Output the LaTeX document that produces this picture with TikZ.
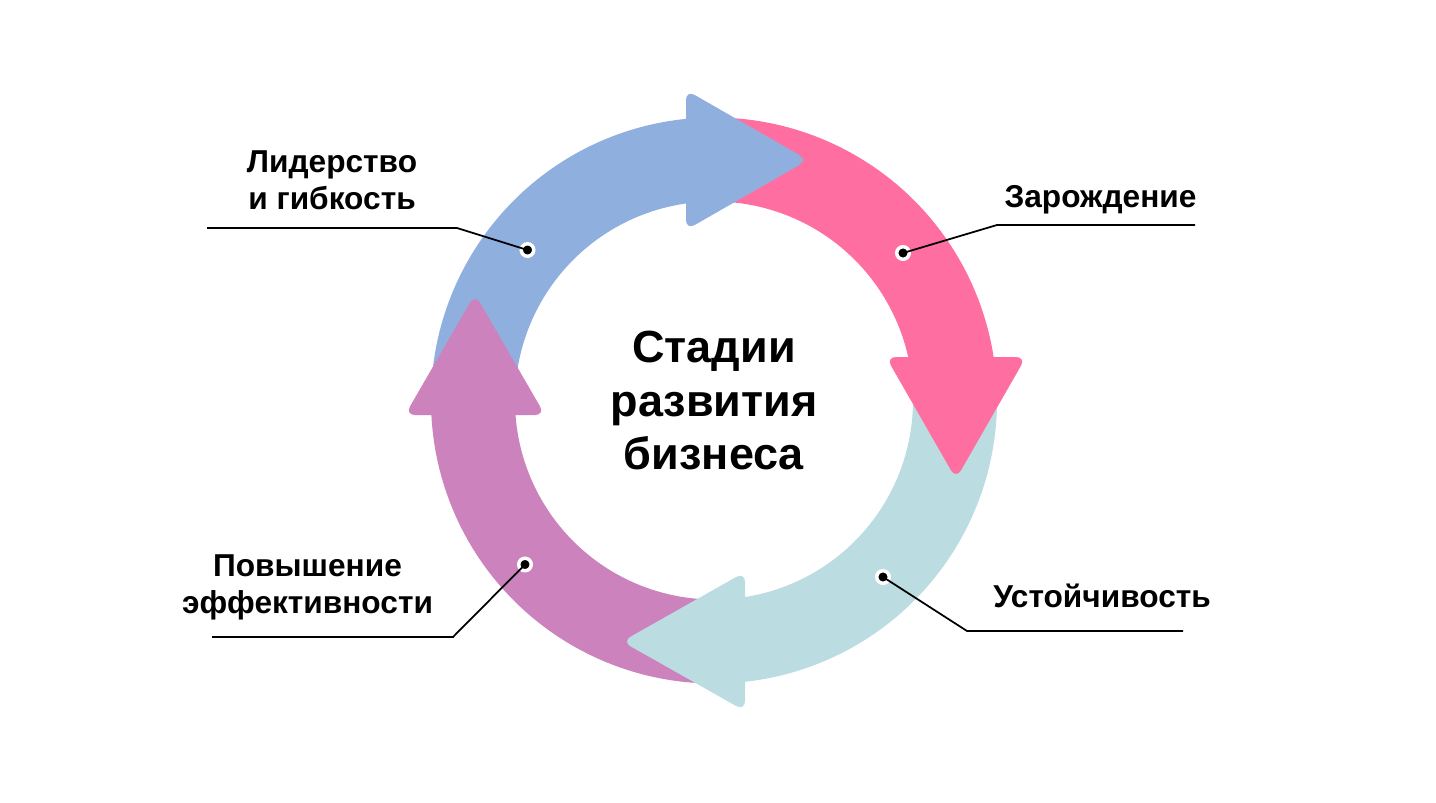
\documentclass[tikz,border=0pt]{standalone}
\usepackage{fontspec}
\setmainfont{Liberation Sans}
\usetikzlibrary{calc}
\definecolor{ringblue}{HTML}{8FB0DF}
\definecolor{ringpink}{HTML}{FF6EA0}
\definecolor{ringteal}{HTML}{BBDCE1}
\definecolor{ringpurple}{HTML}{CC82BC}

\begin{document}
\begin{tikzpicture}
[x=0.01cm,y=0.01cm,
head/.style={rounded corners=0.1cm},
dot/.style={circle,fill=black,draw=white,line width=0.035cm,minimum size=0.125cm,inner sep=0pt},
leader/.style={black,line width=0.5pt},
label/.style={font=\bfseries\fontsize{9pt}{10.5pt}\selectfont,align=center,inner sep=0pt},
title/.style={font=\bfseries\fontsize{12.8pt}{15.2pt}\selectfont,align=center,inner sep=0pt}]

\useasboundingbox (0,0) rectangle (1436,802);
\coordinate (c) at (714,401.5);

% ring parts
\fill[ringblue] ($(c)+(181:283)$) arc[start angle=181,end angle=90,radius=283]
  -- ($(c)+(90:199)$) arc[start angle=90,end angle=181,radius=199] -- cycle;
\fill[ringpink] ($(c)+(94:283)$) arc[start angle=94,end angle=0,radius=283]
  -- ($(c)+(0:199)$) arc[start angle=0,end angle=94,radius=199] -- cycle;
\fill[ringteal] ($(c)+(7:283)$) arc[start angle=7,end angle=-90,radius=283]
  -- ($(c)+(-90:199)$) arc[start angle=-90,end angle=7,radius=199] -- cycle;
\fill[ringpurple] ($(c)+(-85:283)$) arc[start angle=-85,end angle=-180,radius=283]
  -- ($(c)+(-180:199)$) arc[start angle=-180,end angle=-85,radius=199] -- cycle;

% heads
\fill[ringblue,head] (686,712) -- (808,642) -- (686,572) -- cycle;
\fill[ringpink,head] (886,445) -- (1026,445) -- (956,323) -- cycle;
\fill[ringteal,head] (745,230) -- (622,160.5) -- (745,91) -- cycle;
\fill[ringpurple,head] (405,387) -- (475,508) -- (545,387) -- cycle;

% centre
\node[title] (stadii) at (c) {Стадии\\развития\\бизнеса};

% labels
\node[label] (lid) at (332,622) {Лидерство\\и гибкость};
\node[label,anchor=base] (zar) at (1100.5,595) {Зарождение};
\node[label,anchor=base] (ust) at (1102,195) {Устойчивость};
\node[label] (pov) at (307.5,215) {Повышение\\эффективности};

% leaders
\node[dot] (liddot) at (527.5,552) {};
\coordinate (lidbend) at (457,574);
\coordinate (lidend) at (207,574);
\draw[leader] (lidend) -- (lidbend) -- (liddot.center);

\node[dot] (zardot) at (903,549) {};
\coordinate (zarbend) at (997,577);
\coordinate (zarend) at (1195,577);
\draw[leader] (zarend) -- (zarbend) -- (zardot.center);

\node[dot] (ustdot) at (883,225) {};
\coordinate (ustbend) at (967,171);
\coordinate (ustend) at (1183,171);
\draw[leader] (ustend) -- (ustbend) -- (ustdot.center);

\node[dot] (povdot) at (525,237.5) {};
\coordinate (povbend) at (453,165);
\coordinate (povend) at (212,165);
\draw[leader] (povend) -- (povbend) -- (povdot.center);

\end{tikzpicture}
\end{document}
